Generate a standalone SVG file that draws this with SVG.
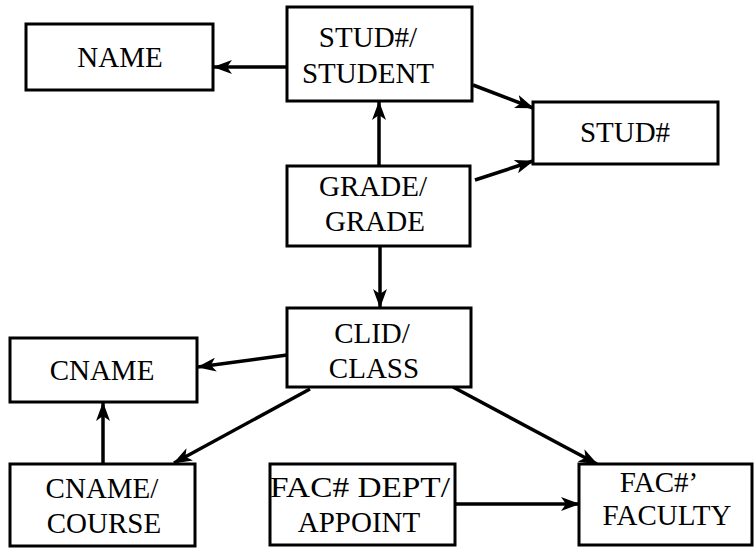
<svg xmlns="http://www.w3.org/2000/svg" width="755" height="548" viewBox="0 0 755 548">
<style>
.box{fill:#fff;stroke:#000;stroke-width:3}
.t{font-family:"Liberation Serif","Times New Roman",serif;font-size:29px;fill:#000;text-anchor:middle}
.c{stroke:#000;stroke-width:3.5;fill:none;marker-end:url(#ah)}
</style>
<defs>
<marker id="ah" markerUnits="userSpaceOnUse" markerWidth="20" markerHeight="14" refX="18" refY="7" orient="auto">
<path d="M0,0 L19,7 L0,14 L5,7 Z" fill="#000"/>
</marker>
</defs>
<rect width="755" height="548" fill="#fff"/>
<g id="connectors">
<line class="c" x1="287" y1="67" x2="214" y2="67"/>
<line class="c" x1="473" y1="85" x2="533" y2="108"/>
<line class="c" x1="475" y1="180" x2="533" y2="161"/>
<line class="c" x1="379" y1="166" x2="379" y2="102"/>
<line class="c" x1="380" y1="246" x2="380" y2="307"/>
<line class="c" x1="287" y1="355" x2="198" y2="367"/>
<line class="c" x1="103" y1="464" x2="103" y2="403"/>
<line class="c" x1="310" y1="389" x2="174" y2="463"/>
<line class="c" x1="453" y1="387" x2="597" y2="464"/>
<line class="c" x1="455" y1="504" x2="579" y2="504"/>
</g>
<g id="name"><rect class="box" x="26" y="24" width="187" height="66"/><text class="t" x="120" y="67">NAME</text></g>
<g id="student"><rect class="box" x="287" y="7" width="185" height="94"/><text class="t" x="368" y="47">STUD#/</text><text class="t" x="368" y="83">STUDENT</text></g>
<g id="studno"><rect class="box" x="533" y="102" width="185" height="62"/><text class="t" x="625" y="142">STUD#</text></g>
<g id="grade"><rect class="box" x="287" y="166" width="183" height="80"/><text class="t" x="373" y="196">GRADE/</text><text class="t" x="375" y="231">GRADE</text></g>
<g id="class"><rect class="box" x="287" y="308" width="184" height="79"/><text class="t" x="372" y="343">CLID/</text><text class="t" x="374" y="378">CLASS</text></g>
<g id="cname"><rect class="box" x="10" y="338" width="187" height="64"/><text class="t" x="102" y="380">CNAME</text></g>
<g id="course"><rect class="box" x="10" y="464" width="185" height="82"/><text class="t" x="102" y="498">CNAME/</text><text class="t" x="104" y="533">COURSE</text></g>
<g id="appoint"><rect class="box" x="270" y="464" width="185" height="81"/><text class="t" x="360" y="497" textLength="180" lengthAdjust="spacingAndGlyphs">FAC# DEPT/</text><text class="t" x="359" y="532">APPOINT</text></g>
<g id="faculty"><rect class="box" x="579" y="464" width="173" height="81"/><text class="t" x="659" y="492">FAC#’</text><text class="t" x="667" y="525">FACULTY</text></g>
</svg>
